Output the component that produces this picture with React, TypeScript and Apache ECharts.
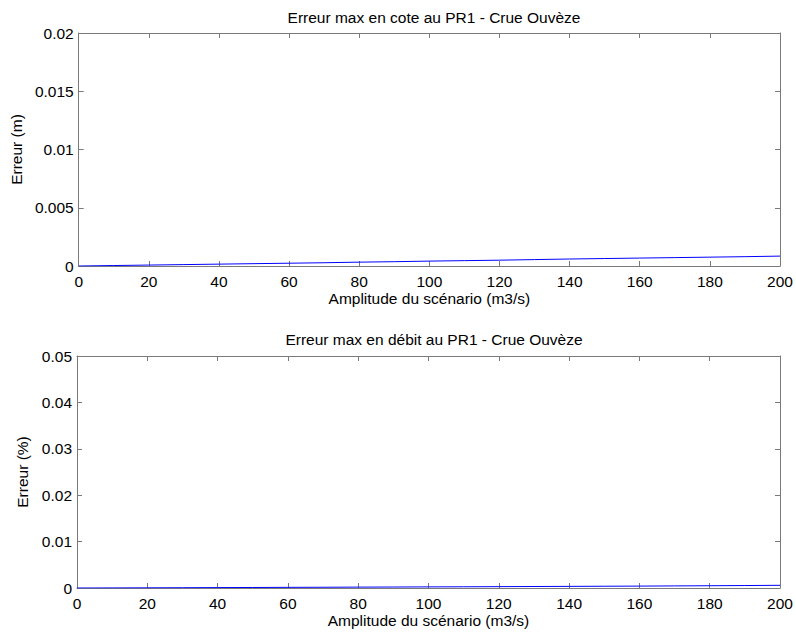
import React, { useEffect, useRef } from "react";
import * as echarts from "echarts";

const amplitudes = [0, 10, 20, 30, 40, 50, 60, 70, 80, 90, 100, 110, 120, 130, 140, 150, 160, 170, 180, 190, 200];
const erreurCote = [0, 0.00004, 0.00008, 0.00012, 0.00016, 0.0002, 0.00024, 0.00028, 0.00033, 0.00037, 0.00042, 0.00046, 0.0005, 0.00055, 0.0006, 0.00064, 0.00068, 0.00072, 0.00076, 0.0008, 0.00085];
const erreurDebit = [0, 0.00002, 0.00004, 0.00006, 0.00009, 0.00011, 0.00014, 0.00016, 0.00019, 0.00021, 0.00024, 0.00026, 0.00029, 0.00032, 0.00035, 0.00038, 0.00041, 0.00045, 0.00049, 0.00053, 0.00058];

const titleTop = "Erreur max en cote au PR1 - Crue Ouvèze";
const titleBottom = "Erreur max en débit au PR1 - Crue Ouvèze";
const xName = "Amplitude du scénario (m3/s)";
const yNameTop = "Erreur (m)";
const yNameBottom = "Erreur (%)";

const FONT = "Liberation Sans, Arial, sans-serif";
const FS = 15.5;
const AXIS_COLOR = "#7a7a7a";

export default function App() {
  const ref = useRef<HTMLDivElement>(null);
  useEffect(() => {
    if (!ref.current) return;
    const chart = echarts.init(ref.current, undefined, { renderer: "svg" });
    const axisLine = { show: true, onZero: false, lineStyle: { color: AXIS_COLOR, width: 1 } };
    const tick = { show: true, inside: true, length: 5, lineStyle: { color: AXIS_COLOR } };
    const label = { color: "#000", fontSize: FS, fontFamily: FONT };
    const nameStyle = { color: "#000", fontSize: FS, fontFamily: FONT };
    const xMain = (gridIndex: number) => ({
      type: "value",
      gridIndex,
      min: 0,
      max: 200,
      interval: 20,
      position: "bottom",
      axisLine,
      axisTick: tick,
      axisLabel: { ...label, margin: 7 },
      splitLine: { show: false },
      name: xName,
      nameLocation: "middle",
      nameGap: 24,
      nameTextStyle: nameStyle,
    });
    const xTop = (gridIndex: number) => ({
      type: "value",
      gridIndex,
      min: 0,
      max: 200,
      interval: 20,
      position: "top",
      axisLine,
      axisTick: tick,
      axisLabel: { show: false },
      splitLine: { show: false },
    });
    const yMain = (gridIndex: number, max: number, interval: number, name: string, gap: number) => ({
      type: "value",
      gridIndex,
      min: 0,
      max,
      interval,
      position: "left",
      axisLine,
      axisTick: tick,
      axisLabel: { ...label, margin: 5 },
      splitLine: { show: false },
      name,
      nameLocation: "middle",
      nameRotate: 90,
      nameGap: gap,
      nameTextStyle: nameStyle,
    });
    const yRight = (gridIndex: number, max: number, interval: number) => ({
      type: "value",
      gridIndex,
      min: 0,
      max,
      interval,
      position: "right",
      axisLine,
      axisTick: tick,
      axisLabel: { show: false },
      splitLine: { show: false },
    });
    const titleStyle = { fontSize: FS, fontWeight: "normal", color: "#000", fontFamily: FONT };
    chart.setOption({
      animation: false,
      backgroundColor: "#fff",
      title: [
        { text: titleTop, left: 429, top: 4, textAlign: "center", textStyle: titleStyle },
        { text: titleBottom, left: 429, top: 326, textAlign: "center", textStyle: titleStyle },
      ],
      grid: [
        { left: 77, top: 33, width: 703, height: 233 },
        { left: 77, top: 356, width: 703, height: 232 },
      ],
      xAxis: [xMain(0), xTop(0), xMain(1), xTop(1)],
      yAxis: [
        yMain(0, 0.02, 0.005, yNameTop, 51),
        yRight(0, 0.02, 0.005),
        yMain(1, 0.05, 0.01, yNameBottom, 41),
        yRight(1, 0.05, 0.01),
      ],
      series: [
        {
          type: "line",
          xAxisIndex: 0,
          yAxisIndex: 0,
          data: amplitudes.map((a, i) => [a, erreurCote[i]]),
          showSymbol: false,
          lineStyle: { color: "#0000ff", width: 1 },
          itemStyle: { color: "#0000ff" },
        },
        {
          type: "line",
          xAxisIndex: 2,
          yAxisIndex: 2,
          data: amplitudes.map((a, i) => [a, erreurDebit[i]]),
          showSymbol: false,
          lineStyle: { color: "#0000ff", width: 1 },
          itemStyle: { color: "#0000ff" },
        },
      ],
    });
    return () => chart.dispose();
  }, []);
  return <div ref={ref} style={{ position: "fixed", left: 0, top: 0, width: 796, height: 633 }} />;
}
